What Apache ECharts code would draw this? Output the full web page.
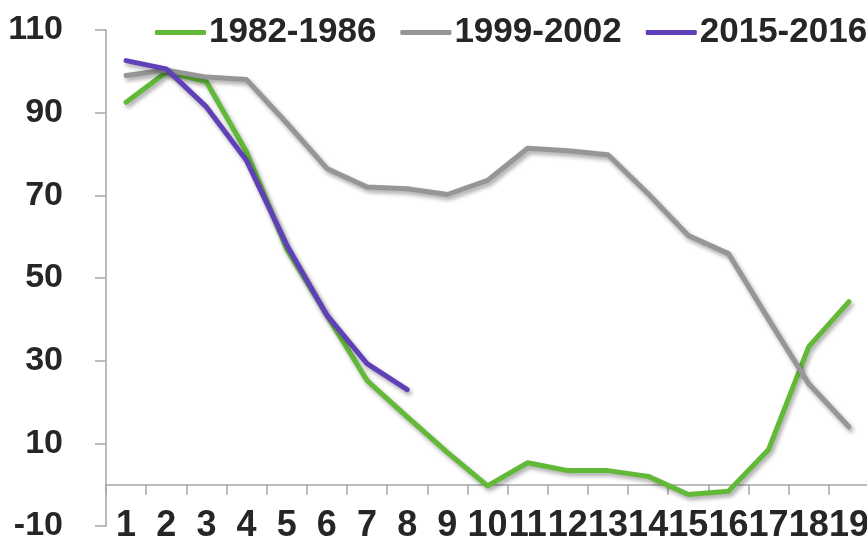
<!DOCTYPE html>
<html>
<head>
<meta charset="utf-8">
<script src="https://cdn.jsdelivr.net/npm/echarts@6/dist/echarts.min.js"></script>
<style>
  html, body { margin: 0; padding: 0; background: #ffffff; }
  #chart { width: 867px; height: 537px; }
</style>
</head>
<body>
<div id="chart"></div>
<script>
// Categories along the x axis
const categories = ['1','2','3','4','5','6','7','8','9','10','11','12','13','14','15','16','17','18','19'];

// Series names
const seriesNames = ['1982-1986', '1999-2002', '2015-2016'];

// Series values
const values1982 = [92.5, 99.8, 97.5, 80.5, 57, 41, 25.2, 16.4, 7.8, -0.3, 5.3, 3.4, 3.4, 2, -2.4, -1.6, 8.5, 33.4, 44.3];
const values1999 = [99, 100.3, 98.6, 98, 87.5, 76.5, 72, 71.6, 70.2, 73.6, 81.4, 80.8, 79.8, 70.4, 60.3, 55.9, 40, 24.4, 14];
const values2015 = [102.6, 100.6, 91.4, 78.4, 58, 41, 29.3, 23];

// Y axis tick labels
const yTicks = [-10, 10, 30, 50, 70, 90, 110];

const colors = ['#62b938', '#969696', '#6040b8'];
const axisColor = '#a6a6a6';
const textColor = '#262626';
const fontFamily = '"Liberation Sans", Arial, sans-serif';

function lineSeries(name, data, color) {
  return {
    name: name,
    type: 'line',
    data: data,
    symbol: 'none',
    smooth: false,
    itemStyle: { color: color },
    lineStyle: {
      color: color,
      width: 5,
      cap: 'round',
      join: 'round',
      shadowColor: 'rgba(0,0,0,0.35)',
      shadowBlur: 4,
      shadowOffsetX: 2,
      shadowOffsetY: 3
    },
    emphasis: { disabled: true }
  };
}

const chart = echarts.init(document.getElementById('chart'), null, { renderer: 'canvas' });
chart.setOption({
  animation: false,
  backgroundColor: '#ffffff',
  textStyle: { fontFamily: fontFamily },
  legend: {
    left: 155,
    top: 15,
    width: 760,
    padding: 0,
    itemWidth: 51,
    itemHeight: 5,
    itemGap: 24,
    icon: 'roundRect',
    textStyle: { fontSize: 35, fontWeight: 'bold', color: textColor, fontFamily: fontFamily, padding: [0, 0, 0, -2] },
    data: seriesNames
  },
  grid: { left: 106, top: 30, width: 763, bottom: 11, containLabel: false, outerBoundsMode: 'none' },
  xAxis: {
    type: 'category',
    data: categories,
    boundaryGap: true,
    axisLine: { onZero: true, lineStyle: { color: axisColor, width: 1.5 } },
    axisTick: { show: true, length: 10, inside: false, lineStyle: { color: axisColor, width: 1.5 } },
    axisLabel: {
      interval: 0,
      hideOverlap: false,
      margin: -18,
      fontSize: 36,
      fontWeight: 'bold',
      color: textColor,
      fontFamily: fontFamily
    },
    splitLine: { show: false }
  },
  yAxis: {
    type: 'value',
    min: -10,
    max: 110,
    axisLine: { show: true, lineStyle: { color: axisColor, width: 1.5 } },
    axisTick: { show: true, length: 11, customValues: yTicks, lineStyle: { color: axisColor, width: 1.5 } },
    axisLabel: {
      customValues: yTicks,
      margin: 43,
      fontSize: 34,
      fontWeight: 'bold',
      color: textColor,
      fontFamily: fontFamily
    },
    splitLine: { show: false }
  },
  series: [
    lineSeries(seriesNames[0], values1982, colors[0]),
    lineSeries(seriesNames[1], values1999, colors[1]),
    lineSeries(seriesNames[2], values2015, colors[2])
  ]
});
</script>
</body>
</html>
